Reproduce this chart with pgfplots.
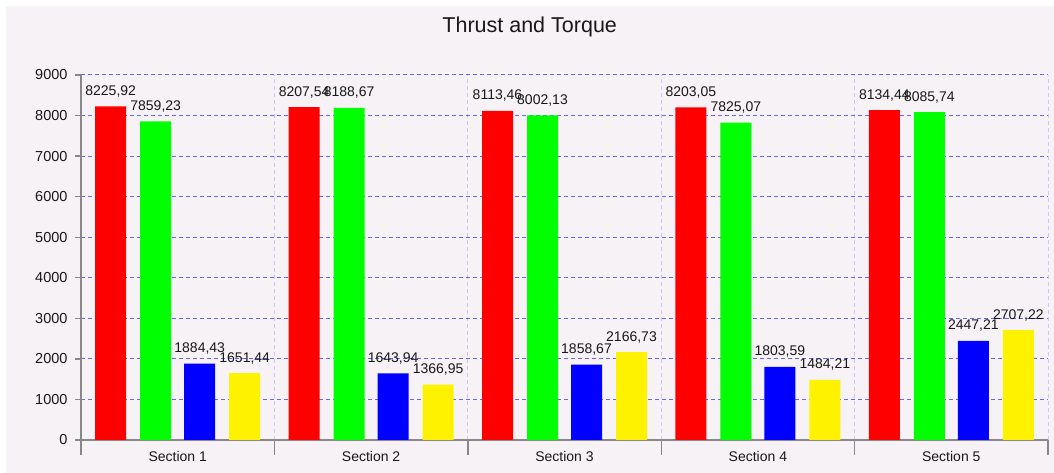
\documentclass[border=0pt]{standalone}
\usepackage{pgfplots}
\pgfplotsset{compat=1.18}
\usepackage{fontspec}
\setmainfont{Liberation Sans}
\definecolor{bg}{RGB}{246,242,246}
\definecolor{hgrid}{RGB}{100,100,255}
\definecolor{vgrid}{RGB}{200,200,255}
\definecolor{axisgray}{RGB}{136,136,136}
\definecolor{txt}{RGB}{25,25,25}
\pgfplotsset{
  valbar/.style={ybar, bar width=31pt, draw=none, bar shift=#1,
    nodes near coords={\pgfmathprintnumber[fixed,fixed zerofill,precision=2,use comma,1000 sep={},assume math mode=true]{\pgfplotspointmeta}},
    every node near coord/.append style={anchor=base, xshift=#1, yshift=11pt, inner sep=0pt, txt, font=\fontsize{14}{16}\selectfont}},
}
\begin{document}
\begin{tikzpicture}[x=1pt,y=1pt]
\useasboundingbox (0,0) rectangle (1054,473);
\fill[white] (0,0) rectangle (1054,473);
\fill[bg] (6,0) rectangle (1054,467);
\begin{axis}[
  at={(81pt,33pt)}, anchor=south west,
  scale only axis, width=967pt, height=365pt,
  xmin=-0.5, xmax=4.5, ymin=0, ymax=9000,
  axis x line*=bottom, axis y line*=left,
  axis line style={axisgray, line width=1.4pt, -},
  xtick={-0.5,0.5,1.5,2.5,3.5,4.5},
  xticklabels={Section 1,Section 2,Section 3,Section 4,Section 5,{}},
  xticklabel style={xshift=96.7pt, yshift=-2pt, txt, font=\fontsize{14}{16}\selectfont},
  ytick={0,1000,...,9000},
  yticklabel style={xshift=-4pt, txt, font=\fontsize{14.5}{17}\selectfont},
  /pgf/number format/1000 sep={},
  /pgf/number format/assume math mode=true,
  scaled y ticks=false,
  tick align=outside,
  major tick length=6pt,
  xtick style={/pgfplots/major tick length=15pt},
  tick style={axisgray, line width=1.4pt},
  xmajorgrids, ymajorgrids,
  x grid style={vgrid, dash pattern=on 4pt off 3pt, line width=1pt},
  y grid style={hgrid, dash pattern=on 4pt off 3pt, line width=1pt},
  title={Thrust and Torque},
  title style={at={(0.464,1)}, anchor=base, yshift=36pt, inner sep=0pt, txt, font=\fontsize{21.5}{25}\selectfont},
  clip=false,
]
\addplot[valbar=-67pt, fill=red] coordinates {(0,8225.92) (1,8207.54) (2,8113.46) (3,8203.05) (4,8134.44)};
\addplot[valbar=-22pt, fill={rgb,255:red,0;green,255;blue,0}] coordinates {(0,7859.23) (1,8188.67) (2,8002.13) (3,7825.07) (4,8085.74)};
\addplot[valbar=22pt, fill=blue] coordinates {(0,1884.43) (1,1643.94) (2,1858.67) (3,1803.59) (4,2447.21)};
\addplot[valbar=67pt, fill=yellow] coordinates {(0,1651.44) (1,1366.95) (2,2166.73) (3,1484.21) (4,2707.22)};
\end{axis}
\end{tikzpicture}
\end{document}
